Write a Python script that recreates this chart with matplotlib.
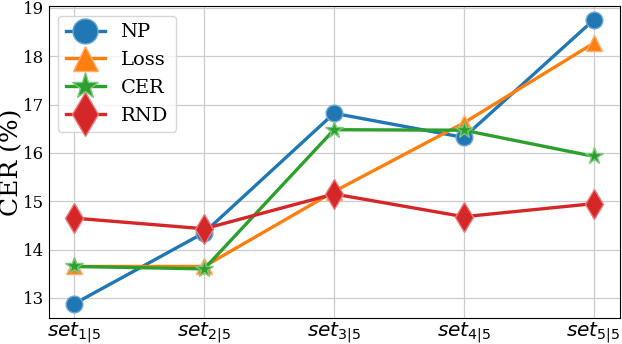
import matplotlib
matplotlib.use("Agg")
import matplotlib.pyplot as plt

# ----------------------------- DATA -----------------------------
subsets = [r"$set_{1|5}$", r"$set_{2|5}$", r"$set_{3|5}$", r"$set_{4|5}$", r"$set_{5|5}$"]
np_cer = [12.88, 14.35, 16.82, 16.32, 18.75]
loss_cer = [13.65, 13.65, 15.20, 16.62, 18.27]
cer_cer = [13.65, 13.60, 16.48, 16.47, 15.93]
rnd_cer = [14.65, 14.43, 15.15, 14.68, 14.95]

# name, values, marker, colour, edge colour, marker size
series = [
    ("NP", np_cer, "o", "#1f77b4", "#6fa6d0", 12),
    ("Loss", loss_cer, "^", "#ff7f0e", "#ffb070", 12),
    ("CER", cer_cer, "*", "#2ca02c", "#7cc87c", 13),
    ("RND", rnd_cer, "d", "#d62728", "#e87c7d", 15),
]

# ----------------------------- PLOT -----------------------------
plt.rcParams["font.family"] = "DejaVu Serif"
plt.rcParams["mathtext.fontset"] = "dejavusans"

fig, ax = plt.subplots(figsize=(6.22, 3.44), dpi=100)
fig.subplots_adjust(left=0.078, right=0.996, top=0.983, bottom=0.076)
x = list(range(len(subsets)))

for name, vals, marker, color, edge, ms in series:
    ax.plot(x, vals, marker=marker, color=color, lw=2.4, ms=ms,
            mec=edge, mew=1, label=name, zorder=3)

ax.set_xticks(x)
ax.set_xticklabels(subsets, fontsize=14.5)
ax.tick_params(axis="y", labelsize=12, length=0, pad=3)
ax.tick_params(axis="x", length=0, pad=1.5)
ax.set_ylabel("CER (%)", fontsize=18)
# keep the label inside the left edge, just left of the tick numbers
ax.yaxis.set_label_coords(-0.044, 0.5)
ax.grid(True, color="#cccccc", lw=0.9)
ax.legend(fontsize=14, loc="upper left", markerscale=1.5)

plt.savefig("out.png", dpi=100)
